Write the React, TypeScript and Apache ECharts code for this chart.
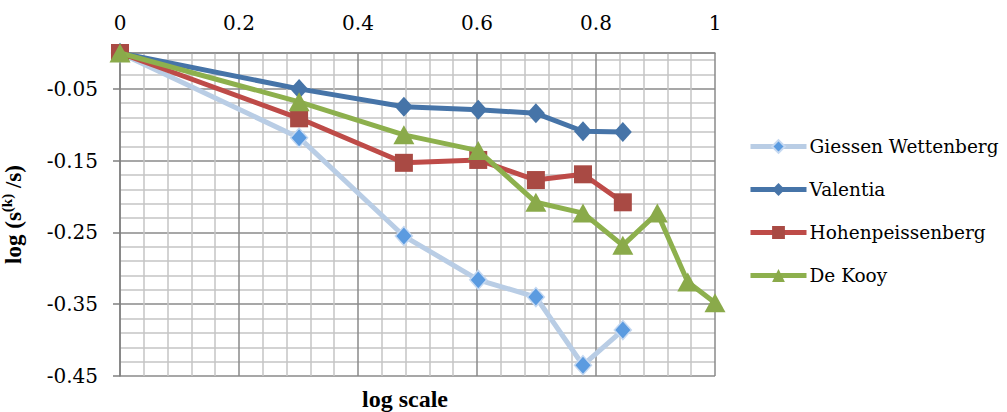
import React, { useEffect, useRef } from "react";
import * as echarts from "echarts";

const xs = [0, 0.30103, 0.47712, 0.60206, 0.69897, 0.77815, 0.84510, 0.90309, 0.95424, 1];
const giessen = [0, -0.118, -0.255, -0.316, -0.34, -0.435, -0.386];
const valentia = [0, -0.05, -0.075, -0.079, -0.084, -0.109, -0.11];
const hohen = [0, -0.091, -0.153, -0.149, -0.177, -0.169, -0.208];
const deKooy = [0, -0.068, -0.114, -0.136, -0.208, -0.223, -0.268, -0.223, -0.319, -0.348];
const seriesNames = ["Giessen Wettenberg", "Valentia", "Hohenpeissenberg", "De Kooy"];
const xTicks = { min: 0, max: 1, interval: 0.2 };
const yTicks = { min: -0.45, max: 0, interval: 0.1 };

const pairs = (vals: number[]) => vals.map((v, i) => [xs[i], v]);
const FONT = "Liberation Serif";
const RFONT = "DejaVu Serif";

export default function App() {
  const ref = useRef<HTMLDivElement>(null);
  useEffect(() => {
    if (!ref.current) return;
    const chart = echarts.init(ref.current, null, { renderer: "svg" });
    const major = { color: "#8a8a8a", width: 1.5 };
    const minor = { color: "#c4c4c4", width: 1.5 };
    chart.setOption({
      animation: false,
      backgroundColor: "#ffffff",
      grid: { left: 120, top: 53, width: 595, height: 323, outerBoundsMode: "none", containLabel: false },
      xAxis: {
        type: "value",
        position: "top",
        min: xTicks.min,
        max: xTicks.max,
        interval: xTicks.interval,
        axisLine: { show: true, lineStyle: major },
        axisTick: { show: false },
        axisLabel: { margin: 20, fontFamily: RFONT, fontSize: 20, color: "#000" },
        splitLine: { show: true, lineStyle: major },
        minorTick: { show: false, splitNumber: 5 },
        minorSplitLine: { show: true, lineStyle: minor },
      },
      yAxis: {
        type: "value",
        min: yTicks.min,
        max: yTicks.max,
        interval: yTicks.interval,
        axisLine: { show: true, lineStyle: { color: "#7f7f7f", width: 1.5 } },
        axisTick: { show: true, length: 7, lineStyle: { color: "#7f7f7f", width: 1.5 } },
        axisLabel: {
          margin: 22,
          showMaxLabel: false,
          fontFamily: RFONT,
          fontSize: 20,
          color: "#000",
          formatter: (v: number) => (Math.abs(v) < 1e-9 ? "" : v.toFixed(2)),
        },
        splitLine: { show: true, lineStyle: major },
        minorTick: { show: false, splitNumber: 5 },
        minorSplitLine: { show: true, lineStyle: minor },
        name: "{a|log (s}{s|(k)}{a| /s)}",
        nameLocation: "middle",
        nameRotate: 90,
        nameGap: 95,
        nameTextStyle: {
          rich: {
            a: { fontFamily: FONT, fontSize: 23, fontWeight: "bold", color: "#000", verticalAlign: "bottom", lineHeight: 26 },
            s: { fontFamily: FONT, fontSize: 15, fontWeight: "bold", color: "#000", verticalAlign: "top", lineHeight: 26 },
          },
        },
      },
      legend: {
        orient: "vertical",
        left: 743,
        top: 132,
        itemWidth: 56,
        itemHeight: 16,
        itemGap: 24,
        lineStyle: { width: 5 },
        textStyle: { padding: [0, 0, 0, -2], fontFamily: RFONT, fontSize: 18.5, color: "#000" },
        data: seriesNames,
      },
      graphic: [
        {
          type: "text",
          x: 405,
          y: 399,
          style: {
            text: "log scale",
            font: `bold 24px ${FONT}`,
            fill: "#000",
            align: "center",
            verticalAlign: "middle",
          },
        },
      ],
      series: [
        {
          name: seriesNames[0],
          type: "line",
          data: pairs(giessen),
          symbol: "diamond",
          symbolSize: [17, 19],
          lineStyle: { color: "#B9CDE5", width: 5 },
          itemStyle: { color: "#5B9BE0", borderColor: "#C6D9F1", borderWidth: 1.5 },
          z: 2,
        },
        {
          name: seriesNames[1],
          type: "line",
          data: pairs(valentia),
          symbol: "diamond",
          symbolSize: [18, 20],
          lineStyle: { color: "#4674A8", width: 5 },
          itemStyle: { color: "#4674A8" },
          z: 3,
        },
        {
          name: seriesNames[2],
          type: "line",
          data: pairs(hohen),
          symbol: "rect",
          symbolSize: 18,
          lineStyle: { color: "#BE4B48", width: 5 },
          itemStyle: { color: "#A94A44" },
          z: 4,
        },
        {
          name: seriesNames[3],
          type: "line",
          data: pairs(deKooy),
          symbol: "triangle",
          symbolSize: [21, 19],
          lineStyle: { color: "#8DB04D", width: 5 },
          itemStyle: { color: "#8AAA4A" },
          z: 5,
        },
      ],
    });
    return () => chart.dispose();
  }, []);
  return <div ref={ref} style={{ position: "absolute", left: 0, top: 0, width: 1007, height: 412 }} />;
}
